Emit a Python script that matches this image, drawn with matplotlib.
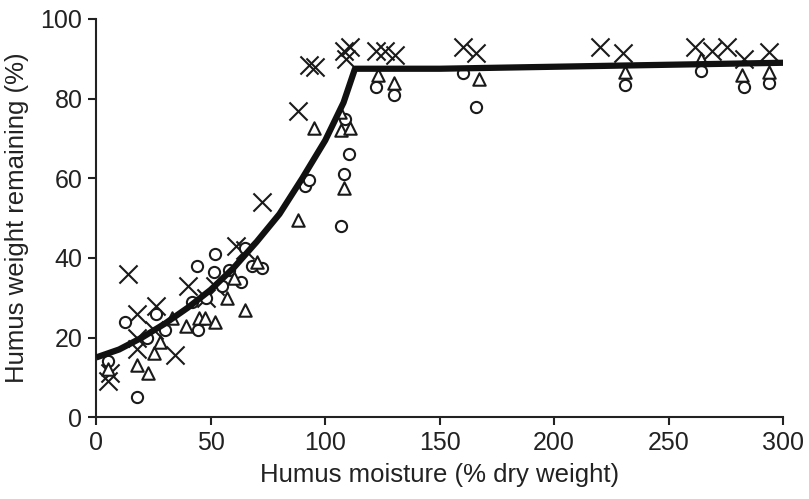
import matplotlib
matplotlib.use("Agg")
import matplotlib.pyplot as plt

plt.rcParams['font.family'] = ['Liberation Sans', 'DejaVu Sans']

# X-marker series
x_cross = [5, 6, 14, 18, 18, 18, 26, 25, 34.5, 40, 48, 52, 61, 65, 72.5, 88, 93, 95.6,
           108, 109, 111, 122, 126, 130.5, 160, 166, 220, 230, 261.5, 269, 275.5, 283, 294]
y_cross = [9, 11, 36, 26, 20, 17, 28, 22, 15.6, 33, 30, 33, 43, 42, 54, 77, 88.5, 88,
           92, 90, 93, 92, 92, 91, 93, 91.5, 93, 91.5, 93, 92, 93, 90, 91.7]

# Circle series
x_circ = [5, 12.7, 18, 22, 26, 30, 42, 44, 44.5, 48, 51.5, 52, 55, 58, 63, 65, 68, 72.5,
          91, 93, 107, 108, 108.7, 110.5, 122, 130, 160, 166, 231, 264, 283, 294]
y_circ = [14, 24, 5, 20, 26, 22, 29, 38, 22, 30, 36.5, 41, 33, 37, 34, 42.5, 38, 37.5,
          58, 59.5, 48, 61, 75, 66, 83, 81, 86.5, 78, 83.5, 87, 83, 84]

# Triangle series
x_tri = [5, 18, 22.7, 25, 28, 33, 39, 45, 47.6, 52, 57, 60, 65, 70, 88, 95, 106.5, 107, 108,
         111, 123, 130, 167, 231, 264, 282, 294]
y_tri = [12, 13, 11, 16, 19, 25, 23, 25, 25, 24, 30, 35, 27, 39, 49.5, 72.6, 76.6, 72, 57.5,
         72.6, 86, 84, 85, 86.7, 90, 86, 86.7]

# Fitted line
x_fit = [0, 10, 20, 30, 40, 50, 60, 70, 80, 90, 100, 108, 113, 150, 200, 250, 300]
y_fit = [15, 17, 20, 23.5, 27.5, 32, 37.5, 44, 51, 60, 69.5, 79, 87.5, 87.5, 88, 88.5, 89]

fig = plt.figure(figsize=(8.09, 4.99), dpi=100)
ax = fig.add_axes([0.119, 0.164, 0.849, 0.798])

ax.scatter(x_cross, y_cross, marker='x', s=170, c='#1a1a1a', linewidths=1.5, zorder=3)
ax.scatter(x_circ, y_circ, marker='o', s=65, facecolors='white', edgecolors='#1a1a1a',
           linewidths=1.5, zorder=3)
ax.scatter(x_tri, y_tri, marker='^', s=80, facecolors='white', edgecolors='#1a1a1a',
           linewidths=1.5, zorder=3)
ax.plot(x_fit, y_fit, color='#111111', lw=4.5, zorder=4, solid_capstyle='butt')

ax.set_xlim(0, 300)
ax.set_ylim(0, 100)
ax.set_xticks([0, 50, 100, 150, 200, 250, 300])
ax.set_yticks([0, 20, 40, 60, 80, 100])
for s in ['top', 'right']:
    ax.spines[s].set_visible(False)
for s in ['left', 'bottom']:
    ax.spines[s].set_linewidth(1.5)
    ax.spines[s].set_color('#222222')
ax.tick_params(direction='out', length=6, width=1.5, labelsize=18, colors='#222222', pad=4)
ax.set_xlabel('Humus moisture (% dry weight)', fontsize=18.5, color='#222222', labelpad=6)
ax.set_ylabel('Humus weight remaining (%)', fontsize=18.5, color='#222222', labelpad=8)

fig.savefig('out.png', dpi=100)
